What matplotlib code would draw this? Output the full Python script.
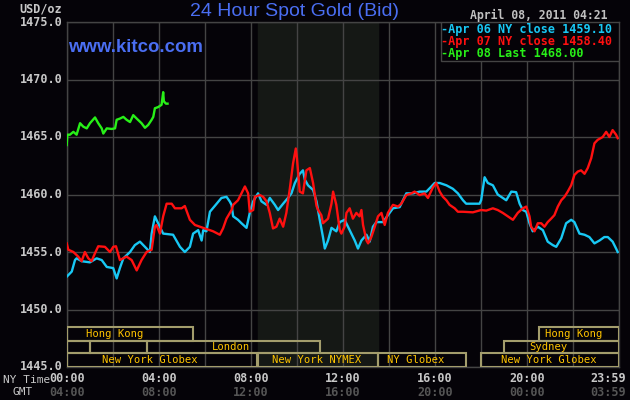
import numpy as np
import matplotlib
matplotlib.use('Agg')
import matplotlib.pyplot as plt
from matplotlib.patches import Rectangle
import matplotlib.transforms as mtransforms

# Apr 06 (cyan) - hours NY time / price
apr06_h = [0.00, 0.22, 0.36, 0.43, 0.65, 1.01, 1.30, 1.52, 1.74, 2.02, 2.17, 2.31, 2.46, 2.75,
           2.96, 3.18, 3.47, 3.61, 3.69, 3.83, 3.97, 4.19, 4.62, 4.92, 5.13, 5.35, 5.49, 5.71,
           5.86, 5.93, 6.07, 6.22, 6.43, 6.72, 6.94, 7.08, 7.16, 7.23, 7.44, 7.59, 7.81, 7.95,
           8.10, 8.31, 8.46, 8.68, 8.82, 9.04, 9.18, 9.40, 9.61, 9.76, 9.91, 10.12, 10.26, 10.34,
           10.48, 10.70, 10.85, 10.99, 11.13, 11.21, 11.35, 11.50, 11.71, 11.86, 12.07, 12.29,
           12.51, 12.65, 12.80, 13.02, 13.16, 13.30, 13.45, 13.74, 13.95, 14.17, 14.46, 14.75,
           15.04, 15.33, 15.62, 15.84, 15.98, 16.20, 16.49, 16.77, 16.99, 17.21, 17.35, 17.64,
           17.93, 18.00, 18.15, 18.29, 18.51, 18.72, 18.94, 19.09, 19.31, 19.52, 19.67, 19.81,
           19.96, 20.10, 20.24, 20.46, 20.68, 20.89, 21.11, 21.26, 21.48, 21.69, 21.91, 22.05,
           22.27, 22.49, 22.70, 22.92, 23.14, 23.35, 23.50, 23.71, 23.86, 23.93]
apr06_p = [1452.85, 1453.3, 1454.3, 1454.45, 1454.2, 1454.1, 1454.45, 1454.3, 1453.7, 1453.6,
           1452.7, 1453.6, 1454.45, 1455.0, 1455.6, 1455.9, 1455.3, 1455.0, 1456.6, 1458.1,
           1457.5, 1456.6, 1456.5, 1455.45, 1455.0, 1455.45, 1456.6, 1456.9, 1456.0, 1456.9,
           1456.8, 1458.5, 1459.0, 1459.7, 1459.8, 1459.4, 1459.1, 1458.1, 1457.8, 1457.5,
           1457.1, 1458.4, 1459.4, 1460.1, 1459.4, 1459.1, 1459.7, 1459.1, 1458.65, 1459.2,
           1459.7, 1460.1, 1461.0, 1461.8, 1462.1, 1461.3, 1460.8, 1460.4, 1459.4, 1457.8,
           1456.3, 1455.3, 1456.0, 1457.1, 1456.8, 1457.6, 1457.8, 1456.9, 1456.0, 1455.3,
           1456.0, 1456.5, 1455.9, 1457.2, 1457.6, 1457.6, 1458.2, 1458.8, 1458.9, 1460.1,
           1460.1, 1460.25, 1460.25, 1460.7, 1461.0, 1461.0, 1460.8, 1460.5, 1460.1, 1459.5,
           1459.2, 1459.2, 1459.2, 1459.5, 1461.5, 1461.0, 1460.8, 1460.0, 1459.7, 1459.5,
           1460.25, 1460.2, 1459.2, 1458.65, 1458.5, 1457.5, 1456.8, 1457.2, 1456.9, 1455.9,
           1455.6, 1455.45, 1456.2, 1457.5, 1457.8, 1457.6, 1456.6, 1456.5, 1456.3, 1455.75,
           1456.0, 1456.3, 1456.3, 1455.9, 1455.3, 1455.0]

# Apr 07 (red)
apr07_h = [0.00, 0.07, 0.29, 0.50, 0.65, 0.79, 0.94, 1.08, 1.23, 1.37, 1.66, 1.88, 2.02, 2.14,
           2.31, 2.46, 2.60, 2.82, 3.04, 3.25, 3.47, 3.69, 3.83, 3.90, 4.05, 4.19, 4.34, 4.56,
           4.70, 4.99, 5.13, 5.35, 5.57, 5.78, 6.07, 6.36, 6.65, 6.79, 6.94, 7.16, 7.23, 7.44,
           7.59, 7.74, 7.88, 7.95, 8.10, 8.17, 8.39, 8.53, 8.68, 8.82, 8.96, 9.11, 9.25, 9.40,
           9.54, 9.69, 9.83, 9.95, 10.00, 10.12, 10.26, 10.41, 10.56, 10.70, 10.85, 10.92, 11.06,
           11.13, 11.35, 11.50, 11.57, 11.71, 11.86, 11.93, 12.07, 12.15, 12.29, 12.43, 12.58,
           12.72, 12.80, 12.87, 13.02, 13.09, 13.23, 13.38, 13.52, 13.67, 13.81, 13.95, 14.17,
           14.39, 14.53, 14.75, 14.97, 15.11, 15.33, 15.54, 15.69, 15.90, 16.05, 16.20, 16.34,
           16.49, 16.63, 16.85, 16.99, 17.21, 17.64, 18.00, 18.22, 18.51, 18.72, 18.94, 19.16,
           19.38, 19.59, 19.81, 19.96, 20.10, 20.17, 20.32, 20.46, 20.61, 20.75, 20.89, 21.04,
           21.18, 21.33, 21.48, 21.62, 21.76, 21.91, 22.05, 22.20, 22.34, 22.49, 22.63, 22.78,
           22.92, 23.06, 23.28, 23.43, 23.57, 23.71, 23.86, 23.93]
apr07_p = [1455.75, 1455.2, 1455.0, 1454.6, 1454.2, 1455.0, 1454.45, 1454.2, 1454.9, 1455.5,
           1455.45, 1455.0, 1455.45, 1455.5, 1454.3, 1454.45, 1454.6, 1454.3, 1453.4, 1454.3,
           1455.0, 1455.2, 1457.2, 1457.35, 1456.6, 1458.1, 1459.2, 1459.2, 1458.8, 1458.8,
           1459.0, 1457.8, 1457.35, 1457.2, 1457.0, 1456.8, 1456.5, 1457.05, 1457.9, 1458.65,
           1459.1, 1459.5, 1460.1, 1460.7, 1460.1, 1458.5, 1458.65, 1459.8, 1459.95, 1459.8,
           1459.4, 1458.4, 1457.05, 1457.2, 1457.9, 1457.2, 1458.4, 1460.5, 1462.7, 1464.0,
           1463.15, 1460.25, 1460.1, 1462.1, 1462.3, 1461.0, 1459.0, 1458.65, 1458.2, 1457.5,
           1457.9, 1459.2, 1460.25, 1459.1, 1456.9, 1456.6, 1457.2, 1458.4, 1458.8, 1457.9,
           1458.4, 1458.1, 1458.65, 1457.35, 1456.0, 1455.75, 1456.3, 1457.2, 1458.1, 1458.4,
           1457.35, 1458.4, 1459.1, 1458.95, 1459.2, 1459.95, 1460.1, 1460.25, 1459.95, 1460.1,
           1459.7, 1460.6, 1461.0, 1460.25, 1459.8, 1459.5, 1459.1, 1458.8, 1458.5, 1458.5,
           1458.45, 1458.65, 1458.6, 1458.8, 1458.65, 1458.4, 1458.1, 1457.8, 1458.4, 1458.8,
           1458.95, 1458.1, 1457.2, 1456.8, 1457.5, 1457.5, 1457.2, 1457.6, 1457.9, 1458.2,
           1458.95, 1459.5, 1459.8, 1460.25, 1460.8, 1461.7, 1462.0, 1462.1, 1461.8, 1462.3,
           1463.15, 1464.45, 1464.75, 1465.0, 1465.45, 1465.0, 1465.6, 1465.2, 1464.9]

# Apr 08 (green, up to 04:21)
apr08_h = [0.00, 0.03, 0.14, 0.29, 0.43, 0.58, 0.72, 0.87, 1.01, 1.23, 1.37, 1.52, 1.59, 1.74,
           1.95, 2.10, 2.17, 2.31, 2.46, 2.60, 2.75, 2.89, 3.04, 3.25, 3.40, 3.54, 3.69, 3.76,
           3.83, 3.97, 4.12, 4.19, 4.22, 4.31, 4.38]
apr08_p = [1464.3, 1465.2, 1465.2, 1465.45, 1465.2, 1466.2, 1465.9, 1465.75, 1466.2, 1466.7,
           1466.2, 1465.75, 1465.3, 1465.75, 1465.7, 1465.75, 1466.5, 1466.6, 1466.75, 1466.5,
           1466.3, 1466.9, 1466.6, 1466.2, 1465.8, 1466.05, 1466.5, 1466.75, 1467.5, 1467.6,
           1467.8, 1468.9, 1468.1, 1467.9, 1467.9]

legend_labels = ['-Apr 06 NY close 1459.10', '-Apr 07 NY close 1458.40', '-Apr 08 Last 1468.00']

y_ticks = [1445, 1450, 1455, 1460, 1465, 1470, 1475]
x_ticks = [0, 4, 8, 12, 16, 20, 24]
ny_labels = ['00:00', '04:00', '08:00', '12:00', '16:00', '20:00', '23:59']
gmt_labels = ['04:00', '08:00', '12:00', '16:00', '20:00', '00:00', '03:59']

# trading sessions: (row, start hour, end hour, label, label hour)
sessions = [
    (0, 0.0, 5.5, 'Hong Kong', 2.1),
    (0, 20.5, 24.0, 'Hong Kong', 22.0),
    (1, 0.0, 1.0, '', 0),
    (1, 1.0, 3.5, '', 0),
    (1, 3.5, 11.0, 'London', 7.13),
    (1, 19.0, 24.0, 'Sydney', 20.92),
    (2, 0.0, 8.25, 'New York Globex', 3.61),
    (2, 8.33, 13.5, 'New York NYMEX', 10.86),
    (2, 13.5, 17.33, 'NY Globex', 15.16),
    (2, 18.0, 24.0, 'New York Globex', 20.92),
]
nymex_open, nymex_close = 8.33, 13.5

BG = '#050308'
GRID = '#444444'
MONO = 'DejaVu Sans Mono'

fig = plt.figure(figsize=(6.3, 4.0), dpi=100, facecolor=BG)
ax = fig.add_axes([66.7 / 630, 1 - 367 / 400, 552.6 / 630, 345 / 400])
ax.set_facecolor(BG)
ax.set_xlim(0, 24)
ax.set_ylim(1445, 1475)

ax.axvspan(nymex_open, nymex_close, color='#151815', zorder=0)

for t in range(0, 25, 2):
    ax.axvline(t, color=GRID, lw=1.0, zorder=1)
for v in y_ticks:
    ax.axhline(v, color=GRID, lw=1.0, zorder=1)
for s in ax.spines.values():
    s.set_color(GRID)
    s.set_linewidth(1.0)
ax.set_xticks([])
ax.set_yticks([])

ax.plot(apr06_h, apr06_p, color='#18c8f4', lw=1.7, zorder=3)
ax.plot(apr07_h, apr07_p, color='#ff1010', lw=1.7, zorder=4)
ax.plot(apr08_h, apr08_p, color='#28f018', lw=1.7, zorder=4)

# session boxes
row_edges = [(1447.26, 1448.48), (1446.22, 1447.26), (1445.0, 1446.22)]
for row, t0, t1, label, lx in sessions:
    lo, hi = row_edges[row]
    ax.add_patch(Rectangle((t0, lo), t1 - t0, hi - lo, fill=False,
                           edgecolor='#a39d6c', lw=1.5, zorder=5))
    if label:
        ax.text(lx, (lo + hi) / 2, label, color='#ffc400', fontsize=7.6,
                family=MONO, ha='center', va='center', zorder=6)

# legend box
ax.add_patch(Rectangle((0.6767, 0.887), 0.3233, 0.113, transform=ax.transAxes,
                       facecolor=BG, edgecolor=GRID, lw=1.0, zorder=7))
leg_colors = ['#18c8f4', '#ff1010', '#28f018']
for i, (lab, c) in enumerate(zip(legend_labels, leg_colors)):
    fig.text(441 / 630, 1 - (29.5 + 12 * i) / 400, lab, color=c, fontsize=8.5,
             family=MONO, fontweight='bold', ha='left', va='center', zorder=8)

# y labels
for v in y_ticks:
    ax.text(-0.008, (v - 1445) / 30, f'{v:.1f}', transform=ax.transAxes, color='#c8c8c8',
            fontsize=8.5, family=MONO, fontweight='bold', ha='right', va='center')
fig.text(62 / 630, 1 - 9 / 400, 'USD/oz', color='#c8c8c8', fontsize=8.5, family=MONO,
         fontweight='bold', ha='right', va='center')

# x labels
trans = mtransforms.blended_transform_factory(ax.transData, fig.transFigure)
for t, ny, gmt in zip(x_ticks, ny_labels, gmt_labels):
    xt = t if t < 24 else 23.5
    ax.text(xt, 1 - 378 / 400, ny, transform=trans, color='#c8c8c8', fontsize=8.5,
            family=MONO, fontweight='bold', ha='center', va='center')
    ax.text(xt, 1 - 393 / 400, gmt, transform=trans, color='#555555', fontsize=8.5,
            family=MONO, fontweight='bold', ha='center', va='center')
fig.text(3 / 630, 1 - 380 / 400, 'NY Time', color='#c8c8c8', fontsize=8, family=MONO,
         ha='left', va='center')
fig.text(12 / 630, 1 - 392 / 400, 'GMT', color='#c8c8c8', fontsize=8, family=MONO,
         ha='left', va='center')

# titles
fig.text(294 / 630, 1 - 12 / 400, '24 Hour Spot Gold (Bid)', color='#4a6ef2', fontsize=14,
         family='Liberation Sans', ha='center', va='center')
fig.text(68 / 630, 1 - 48 / 400, 'www.kitco.com', color='#4a6ef2', fontsize=13.4,
         family='Liberation Sans', fontweight='bold', ha='left', va='center', zorder=8)
fig.text(608 / 630, 1 - 15 / 400, 'April 08, 2011 04:21', color='#c0c0c0', fontsize=8.3,
         family=MONO, fontweight='bold', ha='right', va='center')

fig.savefig('out.png', dpi=100, facecolor=BG)
